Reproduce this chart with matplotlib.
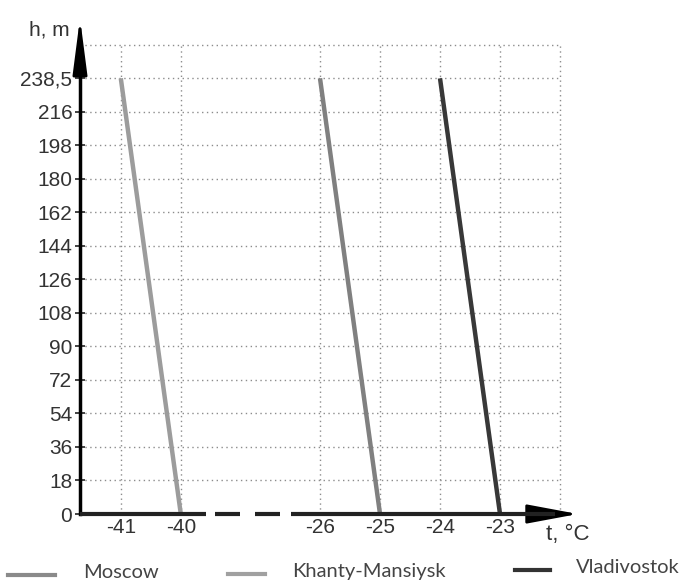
import matplotlib
matplotlib.use("Agg")
import matplotlib.pyplot as plt
import numpy as np

# temperature profiles: top (h=238.5 m) and bottom (h=0) temperatures
cities = ['Moscow', 'Khanty-Mansiysk', 'Vladivostok']
t_top = [-41, -26, -24]
t_bottom = [-40, -25, -23]
h_top = 238.5
h_bottom = 0
city_colors = ['#9c9c9c', '#808080', '#383838']
legend_colors = ['#8a8a8a', '#a0a0a0', '#333333']

x_ticks = [-41, -40, -26, -25, -24, -23]
x_ticklabels = ['-41', '-40', '-26', '-25', '-24', '-23']
y_ticks = [0, 18, 36, 54, 72, 90, 108, 126, 144, 162, 180, 198, 216, 238.5]
y_ticklabels = ['0', '18', '36', '54', '72', '90', '108', '126', '144', '162',
                '180', '198', '216', '238,5']

tick_font = ['Liberation Sans Narrow', 'Liberation Sans', 'DejaVu Sans']
legend_font = ['Lato', 'DejaVu Sans']


# broken x axis: gap between -40 and -26 is squeezed
def fwd_x(t):
    t = np.asarray(t, dtype=float)
    return np.where(t <= -40, t + 41.68,
                    np.where(t >= -26, t + 30, 1.68 + (t + 40) * 2.32 / 14))


def inv_x(p):
    p = np.asarray(p, dtype=float)
    return np.where(p <= 1.68, p - 41.68,
                    np.where(p >= 4, p - 30, -40 + (p - 1.68) * 14 / 2.32))


# last y step (216 -> 238.5) drawn as wide as the others
def fwd_y(h):
    h = np.asarray(h, dtype=float)
    return np.where(h <= 216, h, 216 + (h - 216) * 0.8)


def inv_y(u):
    u = np.asarray(u, dtype=float)
    return np.where(u <= 216, u, 216 + (u - 216) / 0.8)


fig = plt.figure(figsize=(6.83, 5.82), dpi=100)
ax = fig.add_axes([80 / 683, 68 / 582, 500 / 683, 496 / 582])
ax.set_xscale('function', functions=(fwd_x, inv_x))
ax.set_yscale('function', functions=(fwd_y, inv_y))
ax.set_xlim(-41.68, -21.667)
ax.set_ylim(0, 279)

# dotted grid
grid_x = x_ticks + [-22]
grid_y = y_ticks[1:] + [261]
ax.hlines(grid_y, -41.68, -22, colors='#8c8c8c', linestyles=(0, (1, 2.5)), linewidth=1)
ax.vlines(grid_x, 0, 261, colors='#8c8c8c', linestyles=(0, (1, 2.5)), linewidth=1)

for a, b, c in zip(t_top, t_bottom, city_colors):
    ax.plot([a, b], [h_top, h_bottom], color=c, linewidth=3.2, solid_capstyle='butt', zorder=3)

for s in ax.spines.values():
    s.set_visible(False)

# y axis with arrow
ax.plot([0, 0], [0, 0.93], transform=ax.transAxes, color='black', linewidth=2.5,
        clip_on=False, zorder=4)
ax.annotate('', xy=(0, 1.0), xytext=(0, 0.92), xycoords='axes fraction',
            arrowprops=dict(arrowstyle='-|>,head_length=1.7,head_width=0.22',
                            color='black', lw=2, mutation_scale=20, shrinkA=0, shrinkB=0),
            annotation_clip=False)

# x axis: solid, broken with dashes, solid, arrow
x_axis_parts = [(0, 0.252), (0.27, 0.32), (0.35, 0.40), (0.422, 0.95)]
for x0, x1 in x_axis_parts:
    ax.plot([x0, x1], [0, 0], transform=ax.transAxes, color='#222222', linewidth=3,
            clip_on=False, zorder=4, solid_capstyle='butt')
ax.annotate('', xy=(0.996, 0), xytext=(0.94, 0), xycoords='axes fraction',
            arrowprops=dict(arrowstyle='-|>,head_length=1.5,head_width=0.28',
                            color='black', lw=2, mutation_scale=21, shrinkA=0, shrinkB=0),
            annotation_clip=False)

ax.set_xticks(x_ticks)
ax.set_xticklabels(x_ticklabels, family=tick_font, fontsize=15, color='#333333')
ax.set_yticks(y_ticks)
ax.set_yticklabels(y_ticklabels, family=tick_font, fontsize=15, color='#333333')
ax.xaxis.set_minor_locator(matplotlib.ticker.NullLocator())
ax.yaxis.set_minor_locator(matplotlib.ticker.NullLocator())
ax.tick_params(axis='x', length=0, pad=3)
ax.tick_params(axis='y', direction='inout', length=7, width=1.2, pad=2, color='#222222')

fig.text(0.042, 0.948, 'h, m', family=tick_font, fontsize=15, color='#333333', va='center')
fig.text(0.80, 0.082, 't, °C', family=tick_font, fontsize=16, color='#333333', va='center')

# legend placed item by item (pixel positions from the figure)
legend_handle_x = [(8, 55), (228, 265), (515, 550)]
legend_text_x = [83, 292, 576]
legend_y = [575, 574, 570]
for name, c, (h0, h1), tx, ly in zip(cities, legend_colors, legend_handle_x, legend_text_x, legend_y):
    yf = 1 - ly / 582
    fig.add_artist(plt.Line2D([h0 / 683, h1 / 683], [yf, yf], color=c, linewidth=3,
                              transform=fig.transFigure))
    fig.text(tx / 683, yf + 0.004, name, family=legend_font, fontsize=14.5,
             color='#444444', va='center', ha='left')

fig.savefig('out.png', dpi=100)
